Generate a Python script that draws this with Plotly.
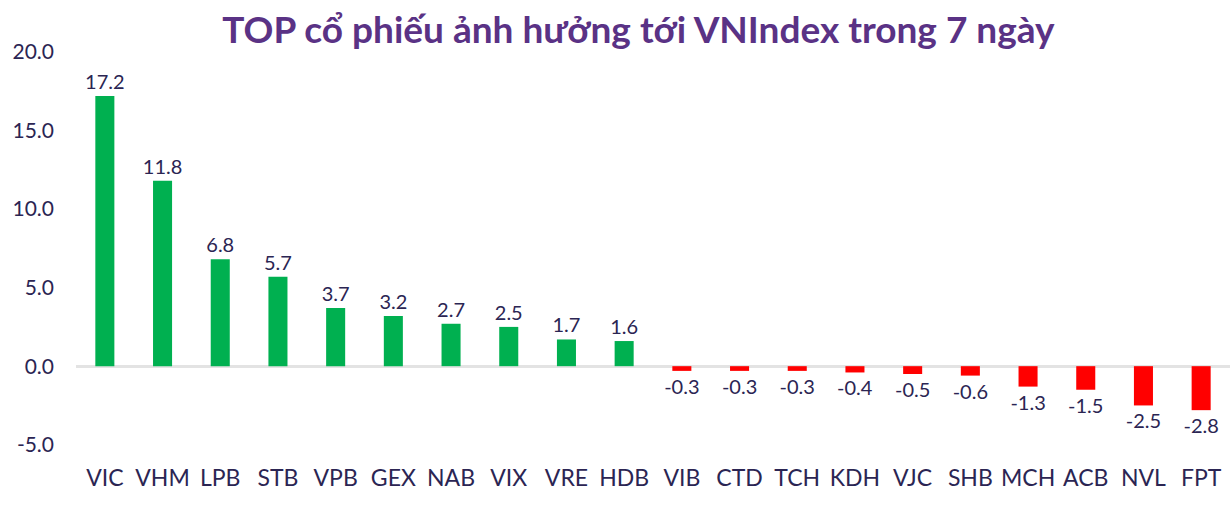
import plotly.graph_objects as go

tickers = ["VIC", "VHM", "LPB", "STB", "VPB", "GEX", "NAB", "VIX", "VRE", "HDB",
           "VIB", "CTD", "TCH", "KDH", "VJC", "SHB", "MCH", "ACB", "NVL", "FPT"]
impact = [17.2, 11.8, 6.8, 5.7, 3.7, 3.2, 2.7, 2.5, 1.7, 1.6,
          -0.3, -0.3, -0.3, -0.4, -0.5, -0.6, -1.3, -1.5, -2.5, -2.8]
y_ticks = [-5, 0, 5, 10, 15, 20]
title_text = "TOP cổ phiếu ảnh hưởng tới VNIndex trong 7 ngày"

GREEN = "#00B050"
RED = "#FF0000"
INK = "#2B2553"
FONT = "Lato"

colors = [GREEN if v >= 0 else RED for v in impact]

fig = go.Figure()
fig.add_trace(go.Bar(
    x=tickers, y=impact,
    marker=dict(color=colors, line=dict(width=0)),
    width=0.33,
    text=[f"{v:.1f}" for v in impact],
    textposition="outside",
    constraintext="none",
    textfont=dict(family=FONT, size=20, color=INK),
    cliponaxis=False,
))

fig.update_layout(
    width=1230, height=517,
    paper_bgcolor="white", plot_bgcolor="white",
    margin=dict(l=76, r=0, t=52, b=55, autoexpand=False),
    showlegend=False,
    title=dict(text=f"<b>{title_text}</b>", x=0.519, xanchor="center", y=0.942, yanchor="middle",
               font=dict(family=FONT, size=37, color="#5A3285")),
    font=dict(family=FONT, color=INK),
)
fig.update_yaxes(range=[-6.1, 20], tickvals=y_ticks, ticktext=[f"{v:.1f}" for v in y_ticks],
                 showgrid=False, zeroline=True, zerolinecolor="#E3E3E3", zerolinewidth=3,
                 showline=False, tickfont=dict(family=FONT, size=21, color=INK), ticklen=0,
                 ticks="", ticklabelstandoff=21, automargin=False)
fig.update_xaxes(showgrid=False, showline=False, ticks="", automargin=False,
                 tickfont=dict(family=FONT, size=23, color=INK))

fig.write_html("out.html", config={"displayModeBar": False},
               post_script="document.body.style.margin='0';")
